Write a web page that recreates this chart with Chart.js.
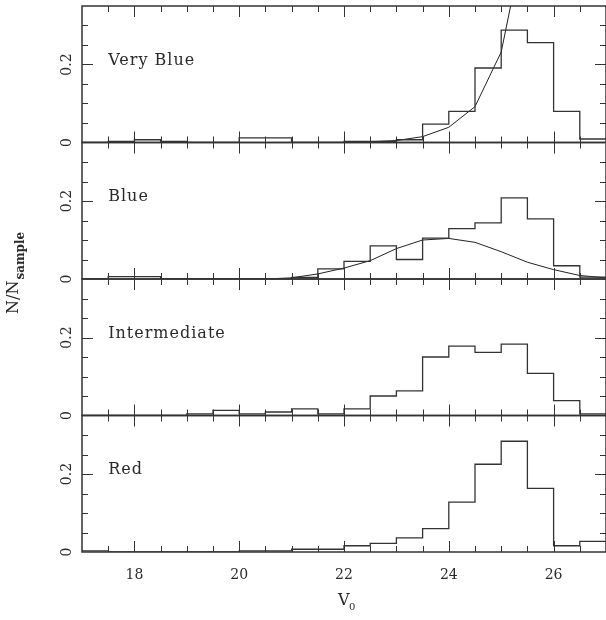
<!DOCTYPE html>
<html lang="en">
<head>
    <meta charset="UTF-8">
    <title>V0 distributions</title>
    <script src="https://cdn.jsdelivr.net/npm/chart.js"></script>
    <style>
        html, body { margin: 0; padding: 0; background: #fff; }
        #wrap { width: 606px; height: 620px; }
    </style>
</head>
<body>
    <div id="wrap"><canvas id="histChart"></canvas></div>
    <script>
        // bin left edges (width 0.5), last edge closes the final bin
        const binLeft = [17, 17.5, 18, 18.5, 19, 19.5, 20, 20.5, 21, 21.5,
                         22, 22.5, 23, 23.5, 24, 24.5, 25, 25.5, 26, 26.5];
        const binEnd = 27;

        const veryBlue = [0, 0.003, 0.007, 0.003, 0, 0, 0.012, 0.012, 0, 0,
                          0.003, 0.003, 0.007, 0.047, 0.080, 0.191, 0.288, 0.256, 0.080, 0.009];
        const blue = [0, 0.006, 0.006, 0, 0, 0, 0, 0, 0.004, 0.026,
                      0.045, 0.085, 0.050, 0.105, 0.129, 0.144, 0.208, 0.154, 0.034, 0.005];
        const intermediate = [0, 0, 0, 0, 0.004, 0.013, 0.004, 0.009, 0.017, 0.004,
                              0.017, 0.050, 0.063, 0.150, 0.178, 0.162, 0.183, 0.108, 0.038, 0.004];
        const red = [0.003, 0, 0, 0, 0, 0, 0.003, 0.003, 0.007, 0.007,
                     0.016, 0.022, 0.036, 0.060, 0.128, 0.225, 0.284, 0.163, 0.016, 0.027];

        // model curves
        const veryBlueFitX = [22, 22.5, 23, 23.5, 24, 24.5, 25, 25.5];
        const veryBlueFit = [0.0005, 0.002, 0.005, 0.015, 0.039, 0.092, 0.232, 0.56];
        const blueFitX = [20.5, 21, 21.5, 22, 22.5, 23, 23.5, 24, 24.5, 25, 25.5, 26, 26.5, 27];
        const blueFit = [0, 0.003, 0.013, 0.028, 0.047, 0.078, 0.100, 0.104, 0.094, 0.070, 0.043, 0.024, 0.009, 0.003];

        const panelNames = ['Very Blue', 'Blue', 'Intermediate', 'Red'];
        const panelIds = ['yVeryBlue', 'yBlue', 'yIntermediate', 'yRed'];
        const xTickLabels = [18, 20, 22, 24, 26];
        const xMinorTicks = [17.5, 18, 18.5, 19, 19.5, 20, 20.5, 21, 21.5, 22, 22.5,
                             23, 23.5, 24, 24.5, 25, 25.5, 26, 26.5];
        const yTickLabels = [0, 0.2];
        const yMinorTicks = [0.05, 0.1, 0.15, 0.2, 0.25, 0.3];

        const SERIF = '"DejaVu Serif", "Liberation Serif", serif';
        const INK = '#2a2a2a';

        function histPoints(vals) {
            const pts = binLeft.map((x, i) => ({ x: x, y: vals[i] }));
            pts.push({ x: binEnd, y: vals[vals.length - 1] });
            return pts;
        }
        function curvePoints(xs, ys) {
            return xs.map((x, i) => ({ x: x, y: ys[i] }));
        }

        const histStyle = { stepped: true, borderColor: '#333', borderWidth: 1.3, pointRadius: 0, fill: false };
        const fitStyle = { borderColor: '#222', borderWidth: 1, pointRadius: 0, fill: false, tension: 0 };

        const datasets = [
            Object.assign({ label: 'Very Blue', data: histPoints(veryBlue), yAxisID: 'yVeryBlue' }, histStyle),
            Object.assign({ label: 'Very Blue fit', data: curvePoints(veryBlueFitX, veryBlueFit), yAxisID: 'yVeryBlue' }, fitStyle),
            Object.assign({ label: 'Blue', data: histPoints(blue), yAxisID: 'yBlue' }, histStyle),
            Object.assign({ label: 'Blue fit', data: curvePoints(blueFitX, blueFit), yAxisID: 'yBlue' }, fitStyle),
            Object.assign({ label: 'Intermediate', data: histPoints(intermediate), yAxisID: 'yIntermediate' }, histStyle),
            Object.assign({ label: 'Red', data: histPoints(red), yAxisID: 'yRed' }, histStyle)
        ];

        function panelAxis() {
            return {
                type: 'linear',
                position: 'left',
                stack: 'panels',
                stackWeight: 1,
                min: 0,
                max: 0.35,
                ticks: { display: false },
                grid: { display: false, drawTicks: false },
                border: { display: false },
                afterFit: s => { s.width = 82; }
            };
        }

        // frame, inward ticks, rotated y labels, panel names, axis titles
        const framePlugin = {
            id: 'frame',
            afterDatasetsDraw(chart) {
                const ctx = chart.ctx;
                const xs = chart.scales.x;
                const left = chart.chartArea.left, right = chart.chartArea.right;
                const seg = (x1, y1, x2, y2) => {
                    ctx.beginPath(); ctx.moveTo(x1, y1); ctx.lineTo(x2, y2); ctx.stroke();
                };
                ctx.save();
                ctx.strokeStyle = '#333';
                panelIds.forEach((id, p) => {
                    const ys = chart.scales[id];
                    const top = ys.top, bottom = ys.bottom;
                    ctx.lineWidth = 1.5;
                    ctx.strokeRect(left, top, right - left, bottom - top);
                    ctx.lineWidth = 1;
                    xMinorTicks.forEach(v => {
                        const px = Math.round(xs.getPixelForValue(v)) + 0.5;
                        const len = xTickLabels.includes(v) ? 11 : 6;
                        seg(px, top, px, top + len);
                        seg(px, bottom, px, bottom - len);
                    });
                    yMinorTicks.forEach(v => {
                        const py = Math.round(ys.getPixelForValue(v)) + 0.5;
                        const len = yTickLabels.includes(v) ? 11 : 6;
                        seg(left, py, left + len, py);
                        seg(right, py, right - len, py);
                    });
                    ctx.fillStyle = INK;
                    ctx.font = '14px ' + SERIF;
                    ctx.textAlign = 'center';
                    ctx.textBaseline = 'middle';
                    yTickLabels.forEach(v => {
                        const py = ys.getPixelForValue(v);
                        ctx.save();
                        ctx.translate(67, py);
                        ctx.rotate(-Math.PI / 2);
                        ctx.fillText(String(v), 0, 0);
                        ctx.restore();
                    });
                    ctx.save();
                    ctx.font = '16px ' + SERIF;
                    ctx.letterSpacing = '1px';
                    ctx.textAlign = 'left';
                    ctx.fillText(panelNames[p], xs.getPixelForValue(17.5), ys.getPixelForValue(0.21));
                    ctx.restore();
                });

                // x title: V with subscript 0
                ctx.fillStyle = INK;
                ctx.textAlign = 'left';
                ctx.textBaseline = 'alphabetic';
                ctx.font = '16px ' + SERIF;
                const cx = (left + right) / 2 - 6;
                ctx.fillText('V', cx, 605);
                ctx.font = '10px ' + SERIF;
                ctx.fillText('0', cx + 11, 610);

                // y title: N/N with subscript "sample", rotated
                ctx.save();
                ctx.translate(18, 314);
                ctx.rotate(-Math.PI / 2);
                ctx.font = '16px ' + SERIF;
                ctx.fillText('N/N', 0, 0);
                const w = ctx.measureText('N/N').width;
                ctx.font = 'bold 12px ' + SERIF;
                ctx.fillText('sample', w + 1, 6);
                ctx.restore();
                ctx.restore();
            }
        };

        const ctx = document.getElementById('histChart').getContext('2d');
        const chart = new Chart(ctx, {
            type: 'line',
            data: { datasets: datasets },
            options: {
                responsive: true,
                maintainAspectRatio: false,
                animation: false,
                layout: { padding: { top: 6, right: 0, left: 0, bottom: 0 } },
                plugins: { legend: { display: false }, tooltip: { enabled: false } },
                scales: {
                    x: {
                        type: 'linear',
                        min: 17,
                        max: 27,
                        afterBuildTicks: s => { s.ticks = xTickLabels.map(v => ({ value: v })); },
                        ticks: { font: { family: SERIF, size: 14 }, color: INK, padding: 15, maxRotation: 0 },
                        grid: { display: false, drawTicks: false },
                        border: { display: false },
                        afterFit: s => { s.height = 68; }
                    },
                    yRed: panelAxis(),
                    yIntermediate: panelAxis(),
                    yBlue: panelAxis(),
                    yVeryBlue: panelAxis()
                }
            },
            plugins: [framePlugin]
        });
    </script>
</body>
</html>
